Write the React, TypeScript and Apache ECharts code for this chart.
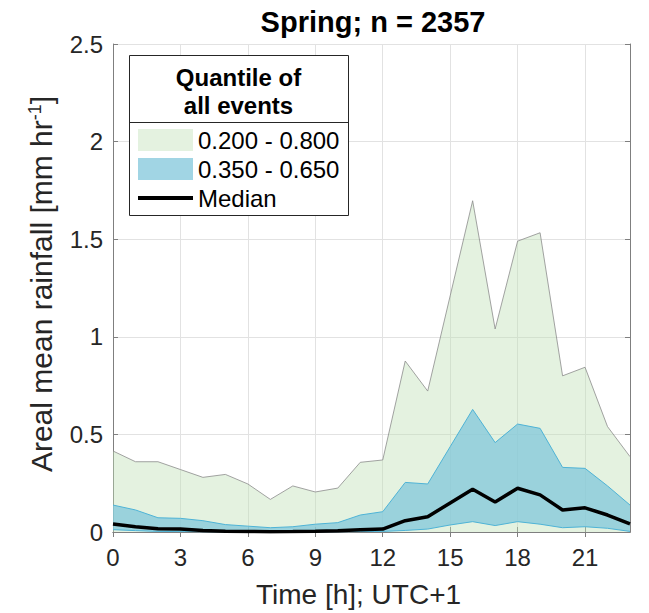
import React, { useEffect, useRef } from "react";
import * as echarts from "echarts";

const hours = ["0","1","2","3","4","5","6","7","8","9","10","11","12","13","14","15","16","17","18","19","20","21","22","23"];
const q20 = [0,0,0,0,0,0,0,0,0,0,0,0,0,0,0,0,0,0,0,0,0,0,0,0];
const q80 = [0.415,0.36,0.36,0.32,0.28,0.295,0.246,0.167,0.236,0.205,0.225,0.357,0.369,0.876,0.722,1.21,1.697,1.04,1.49,1.533,0.80,0.844,0.54,0.386];
const q35 = [0.012,0.007,0.003,0.002,0.001,0,0,0,0,0,0.001,0.002,0.003,0.008,0.015,0.036,0.053,0.033,0.053,0.04,0.022,0.027,0.019,0.003];
const q65 = [0.138,0.113,0.073,0.07,0.058,0.038,0.03,0.022,0.027,0.04,0.048,0.087,0.104,0.254,0.246,0.437,0.628,0.458,0.553,0.531,0.331,0.326,0.236,0.138];
const median = [0.041,0.027,0.017,0.015,0.008,0.004,0.003,0.001,0.002,0.004,0.007,0.012,0.015,0.058,0.078,0.149,0.219,0.154,0.224,0.19,0.113,0.124,0.087,0.041];
const yTicks = { min: 0, max: 2.5, interval: 0.5 };
const titleText = "Spring; n = 2357";
const legendNames = ["0.200 - 0.800", "0.350 - 0.650", "Median"];

const FONT = "'Liberation Sans', Arial, Helvetica, sans-serif";
const AX = "#7f7f7f";
const TXT = "#262626";
const GREEN = "rgba(190,225,180,0.42)";
const BLUE = "rgba(129,199,219,0.75)";
const BLUE_LINE = "#4eb3d6";

export default function App() {
  const ref = useRef<HTMLDivElement>(null);
  useEffect(() => {
    document.body.style.margin = "0";
    if (!ref.current) return;
    const chart = echarts.init(ref.current, undefined, { renderer: "svg" });
    const greenBand = q80.map((v, i) => +(v - q20[i]).toFixed(4));
    const blueBand = q65.map((v, i) => +(v - q35[i]).toFixed(4));
    const tickCommon = { show: true, inside: true, length: 5, interval: 2, lineStyle: { color: AX } };
    chart.setOption({
      animation: false,
      textStyle: { fontFamily: FONT },
      title: {
        text: titleText,
        left: 373,
        top: 7,
        padding: 0,
        textAlign: "center",
        textStyle: { fontFamily: FONT, fontSize: 29, fontWeight: "bold", color: "#000" },
      },
      grid: { left: 113, right: 19, top: 44, bottom: 81, containLabel: false },
      legend: {
        orient: "vertical",
        left: 136,
        top: 128,
        padding: 0,
        itemWidth: 55,
        itemHeight: 22,
        itemGap: 5,
        selectedMode: false,
        z: 6,
        textStyle: { fontFamily: FONT, fontSize: 24, color: "#000" },
        data: [
          { name: legendNames[0], icon: "rect", itemStyle: { color: GREEN, borderWidth: 0 } },
          { name: legendNames[1], icon: "rect", itemStyle: { color: BLUE, borderWidth: 0 } },
          { name: legendNames[2], itemStyle: { opacity: 0 }, lineStyle: { color: "#000", width: 4 } },
        ],
      },
      graphic: [
        { type: "rect", z: 5, shape: { x: 129.5, y: 55.5, width: 219, height: 160 }, style: { fill: "#fff", stroke: "#262626", lineWidth: 1 } },
        { type: "line", z: 5, shape: { x1: 129.5, y1: 122.5, x2: 348.5, y2: 122.5 }, style: { stroke: "#262626", lineWidth: 1 } },
        { type: "text", z: 6, x: 238.5, y: 77, style: { text: "Quantile of", fontFamily: FONT, fontSize: 24, fontWeight: "bold", fill: "#000", align: "center", verticalAlign: "middle" } },
        { type: "text", z: 6, x: 238.5, y: 105, style: { text: "all events", fontFamily: FONT, fontSize: 24, fontWeight: "bold", fill: "#000", align: "center", verticalAlign: "middle" } },
      ],
      xAxis: [
        {
          type: "category",
          data: hours,
          boundaryGap: false,
          position: "bottom",
          axisLine: { show: true, lineStyle: { color: AX } },
          axisTick: tickCommon,
          axisLabel: { interval: 2, fontSize: 24, color: TXT, margin: 13, fontFamily: FONT },
          splitLine: { show: true, interval: 2, lineStyle: { color: "#e2e2e2" } },
          name: "Time [h]; UTC+1",
          nameLocation: "middle",
          nameGap: 48,
          nameTextStyle: { fontSize: 28, color: TXT, fontFamily: FONT, padding: [0, 26, 0, 0] },
        },
        {
          type: "category",
          data: hours,
          boundaryGap: false,
          position: "top",
          axisLine: { show: true, lineStyle: { color: AX } },
          axisTick: tickCommon,
          axisLabel: { show: false },
          splitLine: { show: false },
        },
      ],
      yAxis: [
        {
          type: "value",
          ...yTicks,
          position: "left",
          axisLine: { show: true, lineStyle: { color: AX } },
          axisTick: { show: true, inside: true, length: 5, lineStyle: { color: AX } },
          axisLabel: { fontSize: 24, color: TXT, margin: 10, fontFamily: FONT },
          splitLine: { show: true, lineStyle: { color: "#e2e2e2" } },
          name: "{n|Areal mean rainfall [mm hr}{s|-1}{n|]}",
          nameLocation: "middle",
          nameGap: 57,
          nameTextStyle: {
            fontSize: 30,
            color: TXT,
            fontFamily: FONT,
            padding: [0, 0, 0, 8],
            rich: {
              n: { fontSize: 30, color: TXT, fontFamily: FONT },
              s: { fontSize: 18, color: TXT, fontFamily: FONT, verticalAlign: "top" },
            },
          },
        },
        {
          type: "value",
          ...yTicks,
          position: "right",
          axisLine: { show: true, lineStyle: { color: AX } },
          axisTick: { show: true, inside: true, length: 5, lineStyle: { color: AX } },
          axisLabel: { show: false },
          splitLine: { show: false },
        },
      ],
      series: [
        {
          name: "q20",
          type: "line",
          stack: "green",
          data: q20,
          symbol: "none",
          silent: true,
          lineStyle: { opacity: 0 },
          z: 2,
        },
        {
          name: legendNames[0],
          type: "line",
          stack: "green",
          data: greenBand,
          symbol: "none",
          lineStyle: { color: "#8c8c8c", width: 0.8 },
          itemStyle: { color: GREEN },
          areaStyle: { color: GREEN, opacity: 1 },
          z: 2,
        },
        {
          name: "q35",
          type: "line",
          stack: "blue",
          data: q35,
          symbol: "none",
          silent: true,
          lineStyle: { color: BLUE_LINE, width: 1 },
          z: 3,
        },
        {
          name: legendNames[1],
          type: "line",
          stack: "blue",
          data: blueBand,
          symbol: "none",
          lineStyle: { color: BLUE_LINE, width: 1 },
          itemStyle: { color: BLUE },
          areaStyle: { color: BLUE, opacity: 1 },
          z: 3,
        },
        {
          name: legendNames[2],
          type: "line",
          data: median,
          symbol: "none",
          lineStyle: { color: "#000", width: 3.5 },
          itemStyle: { color: "#000" },
          z: 4,
        },
      ],
    });
    return () => chart.dispose();
  }, []);
  return <div ref={ref} style={{ width: 649, height: 613 }} />;
}
